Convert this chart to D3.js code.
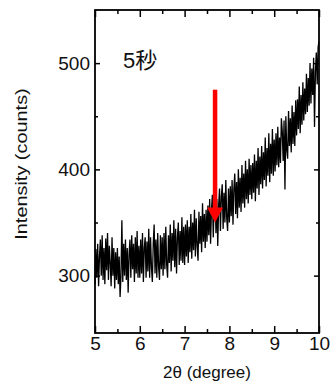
<!DOCTYPE html>
<html>
<head>
<meta charset="utf-8">
<script src="https://cdn.jsdelivr.net/npm/d3@7/dist/d3.min.js"></script>
<style>
  body { margin: 0; background: #fff; }
  svg text { font-family: "Liberation Sans", Arial, sans-serif; fill: #111; }
</style>
</head>
<body>
<div id="chart"></div>
<script>
// scan: 2θ from 5 to 10 degree, one reading every 0.02 degree
const scanStart = 5;
const scanStep = 0.02;
const intensity = [
  292, 325, 298, 330, 290, 318, 334, 300, 338, 296, 326, 292, 335, 305, 340, 296, 328, 312, 290, 336, 300, 326, 288, 322, 296,
  326, 292, 318, 280, 300, 352, 294, 330, 300, 334, 296, 326, 284, 320, 334, 298, 338, 306, 330, 294, 336, 302, 342, 298, 328,
  298, 334, 302, 340, 294, 326, 336, 298, 332, 304, 344, 298, 336, 308, 294, 330, 348, 302, 334, 298, 340, 308, 296, 338, 306,
  336, 300, 340, 306, 346, 310, 298, 338, 312, 348, 304, 340, 314, 352, 308, 344, 302, 336, 350, 310, 342, 314, 355, 312, 346,
  310, 348, 318, 352, 312, 346, 322, 358, 316, 350, 324, 362, 318, 354, 328, 314, 360, 330, 356, 322, 368, 332, 358, 326, 362,
  332, 366, 338, 372, 330, 362, 376, 336, 368, 380, 340, 372, 328, 366, 382, 342, 374, 386, 344, 378, 350, 390, 354, 342, 382,
  350, 384, 356, 390, 348, 382, 396, 358, 388, 354, 400, 364, 392, 360, 404, 368, 396, 364, 408, 372, 400, 368, 410, 376, 404,
  372, 406, 378, 414, 370, 408, 382, 420, 376, 412, 386, 422, 382, 416, 390, 430, 384, 420, 394, 434, 388, 424, 396, 438, 394,
  428, 398, 434, 404, 440, 402, 430, 406, 448, 436, 408, 446, 381, 450, 418, 410, 455, 422, 448, 416, 460, 424, 454, 422, 465,
  432, 466, 438, 478, 434, 470, 442, 482, 446, 476, 452, 490, 454, 486, 460, 500, 462, 495, 470, 505, 440, 492, 510, 480, 515,
  520
];
const xTicks = [5, 6, 7, 8, 9, 10];
const xMinorTicks = [5.5, 6.5, 7.5, 8.5, 9.5];
const yTicks = [300, 400, 500];
const yMinorTicks = [350, 450];
const sampleLabel = "5秒";
const arrowAt = 7.68, arrowFrom = 475, arrowTo = 350;

const width = 330, height = 390;
const margin = { left: 95, top: 10, right: 11, bottom: 57 };
const contentWidth = width - margin.left - margin.right;
const contentHeight = height - margin.top - margin.bottom;

const svg = d3.select('#chart').append('svg')
  .attr('width', width)
  .attr('height', height);

const g = svg.append('g')
  .attr('transform', 'translate(' + margin.left + ',' + margin.top + ')');

const x = d3.scaleLinear().domain([5, 10]).range([0, contentWidth]);
const y = d3.scaleLinear().domain([246, 550]).range([contentHeight, 0]);

const data = intensity.map((v, i) => ({ t: scanStart + i * scanStep, v: v }));

// the scan
g.append('path')
  .datum(data)
  .attr('fill', 'none')
  .attr('stroke', '#000')
  .attr('stroke-width', 1.3)
  .attr('stroke-linejoin', 'bevel')
  .attr('d', d3.line().x(d => x(d.t)).y(d => y(d.v)));

// arrow
const headLen = 15, headHalf = 8;
g.append('line')
  .attr('x1', x(arrowAt)).attr('x2', x(arrowAt))
  .attr('y1', y(arrowFrom)).attr('y2', y(arrowTo) - headLen + 1)
  .attr('stroke', '#ff0000')
  .attr('stroke-width', 4.5);
g.append('path')
  .attr('fill', '#ff0000')
  .attr('d', 'M' + (x(arrowAt) - headHalf) + ',' + (y(arrowTo) - headLen)
    + 'L' + (x(arrowAt) + headHalf) + ',' + (y(arrowTo) - headLen)
    + 'L' + x(arrowAt) + ',' + y(arrowTo) + 'Z');

// axes: ticks point inwards, labels on bottom and left only
function tidy(sel) {
  sel.select('.domain').remove();
  sel.selectAll('line').attr('stroke', '#000').attr('stroke-width', 1.5);
  sel.selectAll('text').style('font-family', '"Liberation Sans", Arial, sans-serif').attr('fill', '#111');
}

g.append('g').attr('transform', 'translate(0,' + contentHeight + ')')
  .call(d3.axisBottom(x).tickValues(xTicks).tickSizeInner(-7).tickSizeOuter(0).tickPadding(4).tickFormat(d3.format('d')))
  .call(tidy)
  .selectAll('text').style('font-size', '19px');
g.append('g').attr('transform', 'translate(0,' + contentHeight + ')')
  .call(d3.axisBottom(x).tickValues(xMinorTicks).tickSizeInner(-4).tickSizeOuter(0).tickFormat(''))
  .call(tidy);
g.append('g')
  .call(d3.axisTop(x).tickValues(xTicks).tickSizeInner(-7).tickSizeOuter(0).tickFormat(''))
  .call(tidy);
g.append('g')
  .call(d3.axisTop(x).tickValues(xMinorTicks).tickSizeInner(-4).tickSizeOuter(0).tickFormat(''))
  .call(tidy);

g.append('g')
  .call(d3.axisLeft(y).tickValues(yTicks).tickSizeInner(-5).tickSizeOuter(0).tickPadding(5).tickFormat(d3.format('d')))
  .call(tidy)
  .selectAll('text').style('font-size', '19px');
g.append('g')
  .call(d3.axisLeft(y).tickValues(yMinorTicks).tickSizeInner(-3).tickSizeOuter(0).tickFormat(''))
  .call(tidy);
g.append('g').attr('transform', 'translate(' + contentWidth + ',0)')
  .call(d3.axisRight(y).tickValues(yTicks).tickSizeInner(-5).tickSizeOuter(0).tickFormat(''))
  .call(tidy);
g.append('g').attr('transform', 'translate(' + contentWidth + ',0)')
  .call(d3.axisRight(y).tickValues(yMinorTicks).tickSizeInner(-3).tickSizeOuter(0).tickFormat(''))
  .call(tidy);

// frame
g.append('rect')
  .attr('width', contentWidth)
  .attr('height', contentHeight)
  .attr('fill', 'none')
  .attr('stroke', '#000')
  .attr('stroke-width', 1.8);

// titles
svg.append('text')
  .attr('x', margin.left + contentWidth / 2)
  .attr('y', 378)
  .attr('text-anchor', 'middle')
  .style('font-size', '17px')
  .text('2θ (degree)');

svg.append('text')
  .attr('transform', 'translate(27,164) rotate(-90) scale(1.17,1)')
  .attr('text-anchor', 'middle')
  .style('font-size', '17px')
  .text('Intensity (counts)');

svg.append('text')
  .attr('x', 123)
  .attr('y', 68)
  .style('font-family', '"Liberation Sans", "Noto Sans CJK JP", sans-serif')
  .style('font-size', '22px')
  .attr('fill', '#222')
  .text(sampleLabel);
</script>
</body>
</html>
